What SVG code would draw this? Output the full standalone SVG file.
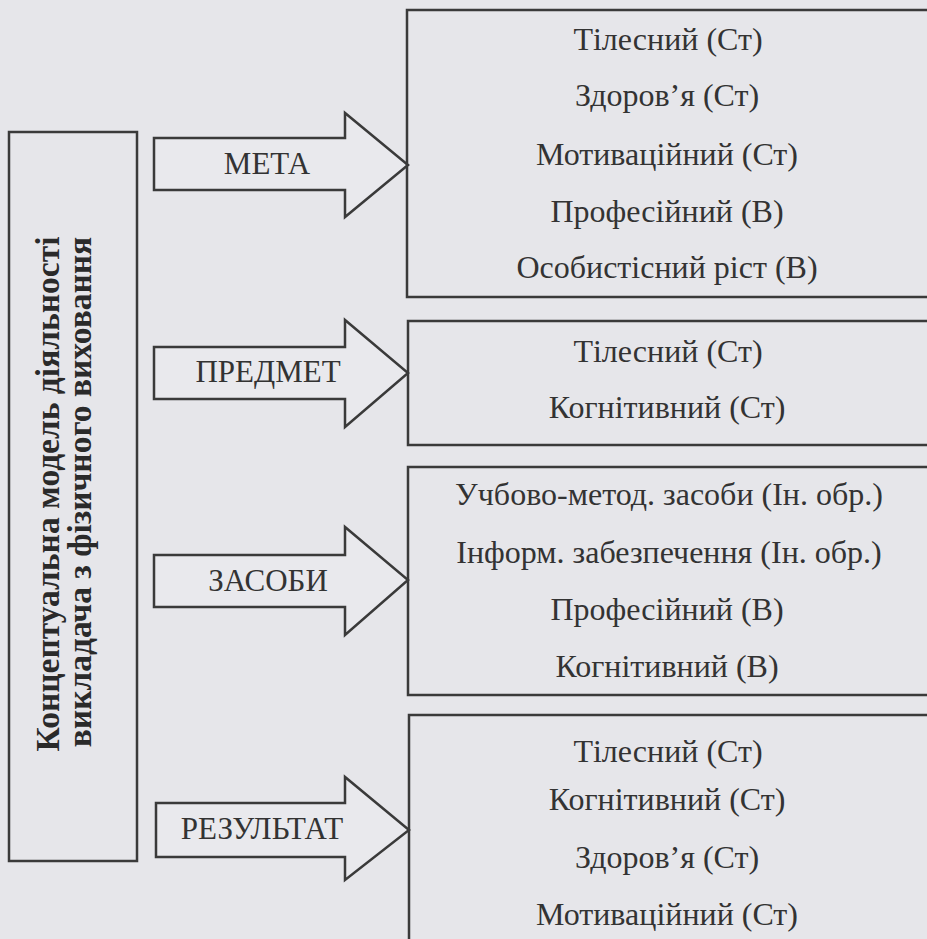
<svg xmlns="http://www.w3.org/2000/svg" width="927" height="939" viewBox="0 0 927 939">
<style>
.bg{fill:#e6e6ea}
.box{fill:none;stroke:#3a3a3a;stroke-width:2.5}
.arrow{fill:#e9e9ed;stroke:#3a3a3a;stroke-width:2.5;stroke-linejoin:miter}
.t{font-family:"Liberation Serif","Times New Roman",serif;font-size:32px;fill:#333;text-anchor:middle}
.a{font-family:"Liberation Serif","Times New Roman",serif;font-size:31px;fill:#333;text-anchor:middle}
.v{font-family:"Liberation Serif","Times New Roman",serif;font-size:33.5px;font-weight:bold;fill:#2a2a2a;text-anchor:middle}
</style>
<rect class="bg" x="0" y="0" width="927" height="939"/>
<g id="model">
<rect class="box" x="9" y="132" width="128" height="729"/>
<text class="v" transform="translate(59,494) rotate(-90)">Концептуальна модель діяльності</text>
<text class="v" transform="translate(91,492) rotate(-90)">викладача з фізичного виховання</text>
</g>
<g id="connectors">
<g id="arrow-meta">
<polygon class="arrow" points="154,138 345,138 345,113 408,165 345,217 345,190 154,190"/>
<text class="a" x="267" y="174">МЕТА</text>
</g>
<g id="arrow-predmet">
<polygon class="arrow" points="154,347 345,347 345,320 408,373 345,427 345,399 154,399"/>
<text class="a" x="268" y="382">ПРЕДМЕТ</text>
</g>
<g id="arrow-zasoby">
<polygon class="arrow" points="154,555 345,555 345,527 408,580 345,635 345,607 154,607"/>
<text class="a" x="268" y="591">ЗАСОБИ</text>
</g>
<g id="arrow-rezultat">
<polygon class="arrow" points="156,803 345,803 345,777 409,830 345,880 345,857 156,857"/>
<text class="a" x="262" y="839">РЕЗУЛЬТАТ</text>
</g>
</g>
<g id="box-meta">
<rect class="box" x="407" y="10" width="540" height="287"/>
<text class="t" x="668" y="50">Тілесний (Ст)</text>
<text class="t" x="667" y="106">Здоров’я (Ст)</text>
<text class="t" x="667" y="165">Мотиваційний (Ст)</text>
<text class="t" x="667" y="222">Професійний (В)</text>
<text class="t" x="667" y="278">Особистісний ріст (В)</text>
</g>
<g id="box-predmet">
<rect class="box" x="408" y="321" width="540" height="124"/>
<text class="t" x="668" y="362">Тілесний (Ст)</text>
<text class="t" x="667" y="418">Когнітивний (Ст)</text>
</g>
<g id="box-zasoby">
<rect class="box" x="408" y="467" width="540" height="228"/>
<text class="t" x="669" y="505">Учбово-метод. засоби (Ін. обр.)</text>
<text class="t" x="669" y="563">Інформ. забезпечення (Ін. обр.)</text>
<text class="t" x="667" y="620">Професійний (В)</text>
<text class="t" x="667" y="677">Когнітивний (В)</text>
</g>
<g id="box-rezultat">
<rect class="box" x="409" y="715" width="540" height="260"/>
<text class="t" x="668" y="762">Тілесний (Ст)</text>
<text class="t" x="667" y="810">Когнітивний (Ст)</text>
<text class="t" x="667" y="868">Здоров’я (Ст)</text>
<text class="t" x="667" y="925">Мотиваційний (Ст)</text>
</g>
</svg>
